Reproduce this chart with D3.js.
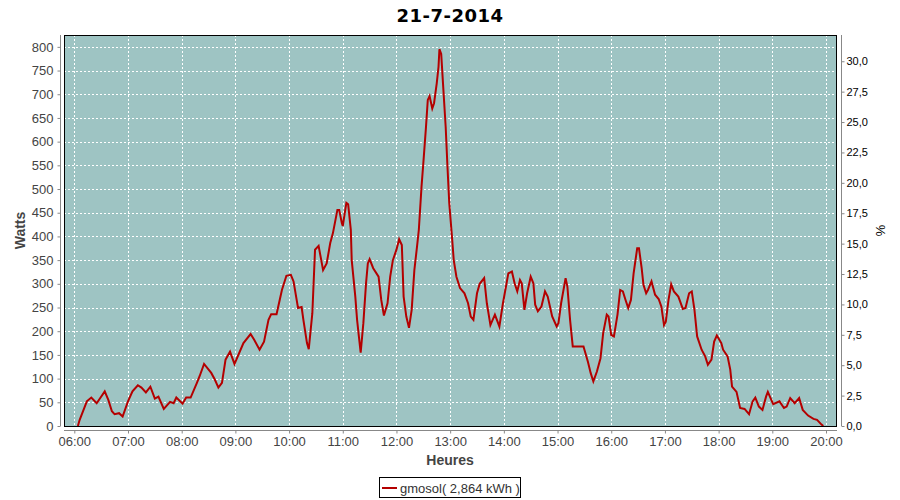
<!DOCTYPE html>
<html>
<head>
<meta charset="utf-8">
<script src="https://cdn.jsdelivr.net/npm/d3@7/dist/d3.min.js"></script>
<style>
  html, body { margin: 0; padding: 0; background: #fff; }
  svg { display: block; }
</style>
</head>
<body>
<svg id="chart" width="900" height="500"></svg>
<script>
// ---- data ----
const times = ["06:04","06:06","06:14","06:19","06:25","06:29","06:34","06:38","06:42","06:45","06:50","06:54",
"07:00","07:05","07:11","07:15","07:20","07:25","07:30","07:34","07:40","07:47","07:51","07:54",
"08:01","08:05","08:10","08:17","08:20","08:25","08:33","08:37","08:41","08:45","08:49","08:54","08:59",
"09:09","09:17","09:21","09:27","09:32","09:37","09:40","09:46","09:52","09:57",
"10:02","10:05","10:10","10:14","10:16","10:20","10:22","10:26","10:29","10:33","10:38","10:42","10:46","10:49","10:54","10:56","10:59",
"11:00","11:04","11:06","11:09","11:10","11:14","11:16","11:18","11:20","11:23","11:26","11:28","11:30","11:34","11:40","11:43","11:46","11:50","11:53","11:56",
"12:00","12:03","12:06","12:08","12:11","12:14","12:17","12:20","12:23","12:25","12:28","12:30","12:33","12:35","12:37","12:40","12:42","12:45","12:47","12:48","12:50","12:52","12:55","12:57","12:59",
"13:02","13:04","13:07","13:11","13:16","13:20","13:23","13:26","13:30","13:33","13:38","13:41","13:45","13:50","13:55","13:59",
"14:05","14:09","14:12","14:15","14:18","14:20","14:23","14:26","14:30","14:33","14:35","14:38","14:42","14:46","14:49","14:54","14:59",
"15:01","15:04","15:09","15:11","15:14","15:17","15:23","15:29","15:34","15:37","15:40","15:44","15:48","15:51","15:55","15:57",
"16:00","16:03","16:07","16:10","16:13","16:16","16:19","16:22","16:25","16:29","16:31","16:34","16:36","16:39","16:41","16:45","16:49","16:53","16:56","16:59",
"17:01","17:04","17:07","17:10","17:15","17:20","17:23","17:27","17:30","17:33","17:36","17:41","17:45","17:48","17:52","17:55","17:58",
"18:03","18:05","18:10","18:13","18:15","18:20","18:24","18:29","18:34","18:38","18:41","18:45","18:49","18:53","18:55",
"19:01","19:08","19:13","19:16","19:20","19:25","19:30","19:34","19:40","19:46","19:50","19:55","19:57"];
const watts = [0,13,52,60,48,59,73,55,31,25,27,20,
52,73,86,81,71,83,58,62,36,51,48,60,
47,60,60,91,105,131,112,98,81,91,140,157,131,
175,194,182,161,178,224,236,236,287,317,
319,305,249,251,224,175,162,238,372,380,329,343,386,407,456,456,428,
422,471,468,414,350,273,224,189,155,217,301,343,352,333,315,266,233,259,315,350,
372,394,382,273,231,207,245,329,379,414,505,554,631,688,696,670,681,723,758,795,785,723,631,547,470,
400,350,315,291,280,259,231,224,280,300,312,259,213,235,210,259,
322,326,301,284,308,301,245,280,315,301,256,242,252,284,273,231,210,
217,259,312,294,224,168,168,168,135,112,94,115,143,196,235,231,
192,189,235,287,284,266,249,266,322,375,375,333,298,280,287,305,277,268,252,213,
220,266,299,284,273,247,249,280,284,245,189,161,147,129,140,178,191,
175,161,147,119,83,72,38,36,25,52,60,41,34,62,72,
46,52,38,41,59,48,59,34,22,15,13,3,0];

const hourTicks = ["06:00","07:00","08:00","09:00","10:00","11:00","12:00","13:00","14:00","15:00","16:00","17:00","18:00","19:00","20:00"];
const wattTicks = [0,50,100,150,200,250,300,350,400,450,500,550,600,650,700,750,800];
const pctTicks = [0,2.5,5,7.5,10,12.5,15,17.5,20,22.5,25,27.5,30];

const titleText = "21-7-2014";
const seriesName = "gmosol( 2,864 kWh )";
const xLabel = "Heures";
const yLabel = "Watts";
const y2Label = "%";

// ---- layout ----
const plot = {left: 64, right: 837, top: 35, bottom: 426};
const parse = d3.timeParse("%H:%M");
const data = times.map((t, i) => ({t: parse(t), v: watts[i]}));

const svg = d3.select("#chart");

const x = d3.scaleTime()
  .domain([parse("05:48"), parse("20:12")])
  .range([plot.left, plot.right]);
// fine tune so that domain edges include seconds
x.domain([new Date(parse("05:48").getTime() + 29000), new Date(parse("20:12").getTime() + 17000)]);

const y = d3.scaleLinear().domain([0, 825]).range([plot.bottom, plot.top]);
const y2 = d3.scaleLinear().domain([0, 32.16]).range([plot.bottom, plot.top]);

// background
svg.append("rect")
  .attr("x", plot.left).attr("y", plot.top)
  .attr("width", plot.right - plot.left).attr("height", plot.bottom - plot.top)
  .attr("fill", "#9ec4c3");

// grid
const grid = svg.append("g").attr("stroke", "#fff").attr("stroke-width", 1)
  .attr("stroke-dasharray", "2,2").attr("shape-rendering", "crispEdges");
grid.selectAll("line.h").data(wattTicks).join("line")
  .attr("x1", plot.left).attr("x2", plot.right)
  .attr("y1", d => Math.round(y(d)) + 0.5).attr("y2", d => Math.round(y(d)) + 0.5);
grid.selectAll("line.v").data(hourTicks.map(parse)).join("line")
  .attr("y1", plot.top).attr("y2", plot.bottom)
  .attr("x1", d => Math.round(x(d)) + 0.5).attr("x2", d => Math.round(x(d)) + 0.5);

// line
const line = d3.line().x(d => x(d.t)).y(d => y(d.v));
svg.append("path").datum(data)
  .attr("d", line)
  .attr("fill", "none")
  .attr("stroke", "#b40000")
  .attr("stroke-width", 2)
  .attr("stroke-linejoin", "miter");

// plot outline
svg.append("rect")
  .attr("x", plot.left + 0.5).attr("y", plot.top + 0.5)
  .attr("width", plot.right - plot.left - 1).attr("height", plot.bottom - plot.top)
  .attr("fill", "none").attr("stroke", "#000").attr("stroke-width", 1);

// axes
function styleAxis(g, color, size) {
  g.select(".domain").attr("stroke", "#888");
  g.selectAll(".tick line").attr("stroke", "#888");
  g.selectAll(".tick text").attr("fill", color)
    .attr("font-family", "'Liberation Sans', Arial, sans-serif")
    .attr("font-size", size);
}

const gL = svg.append("g").attr("transform", `translate(60.5,0)`)
  .call(d3.axisLeft(y).tickValues(wattTicks).tickSizeOuter(0).tickSize(3).tickPadding(4));
gL.select(".domain").attr("d", `M0,${plot.top}V${plot.bottom}`);
styleAxis(gL, "#444", 13);

const gB = svg.append("g").attr("transform", `translate(0,430.5)`)
  .call(d3.axisBottom(x).tickValues(hourTicks.map(parse)).tickFormat(d3.timeFormat("%H:%M"))
    .tickSizeOuter(0).tickSize(3).tickPadding(3));
gB.select(".domain").attr("d", `M${plot.left},0H${plot.right}`);
styleAxis(gB, "#444", 13);

const fmtPct = d => d3.format(".1f")(d).replace(".", ",");
const gR = svg.append("g").attr("transform", `translate(841.5,0)`)
  .call(d3.axisRight(y2).tickValues(pctTicks).tickFormat(fmtPct).tickSizeOuter(0).tickSize(3).tickPadding(2));
gR.select(".domain").attr("d", `M0,${plot.top}V${plot.bottom}`);
styleAxis(gR, "#000", 11);

svg.selectAll(".domain").attr("fill", "none");

// title
svg.append("text")
  .attr("x", 450).attr("y", 22)
  .attr("text-anchor", "middle")
  .attr("font-family", "'DejaVu Sans', sans-serif")
  .attr("font-weight", "bold").attr("font-size", 18)
  .attr("letter-spacing", 0.5)
  .attr("fill", "#000")
  .text(titleText);

// axis labels
svg.append("text")
  .attr("transform", `translate(25,${(plot.top + plot.bottom) / 2}) rotate(-90)`)
  .attr("text-anchor", "middle")
  .attr("font-family", "'Liberation Sans', Arial, sans-serif")
  .attr("font-weight", "bold").attr("font-size", 14)
  .attr("fill", "#444")
  .text(yLabel);

svg.append("text")
  .attr("transform", `translate(876,${(plot.top + plot.bottom) / 2}) rotate(90)`)
  .attr("text-anchor", "middle")
  .attr("font-family", "'Liberation Sans', Arial, sans-serif")
  .attr("font-size", 13)
  .attr("fill", "#000")
  .text(y2Label);

svg.append("text")
  .attr("x", 450).attr("y", 465)
  .attr("text-anchor", "middle")
  .attr("font-family", "'Liberation Sans', Arial, sans-serif")
  .attr("font-weight", "bold").attr("font-size", 14)
  .attr("fill", "#444")
  .text(xLabel);

// legend
const lg = svg.append("g");
lg.append("rect").attr("x", 379.5).attr("y", 477.5).attr("width", 141).attr("height", 20)
  .attr("fill", "#fff").attr("stroke", "#000").attr("stroke-width", 1);
lg.append("line").attr("x1", 382).attr("x2", 397).attr("y1", 488).attr("y2", 488)
  .attr("stroke", "#b40000").attr("stroke-width", 2);
lg.append("text").attr("x", 400).attr("y", 492.5)
  .attr("font-family", "'Liberation Sans', Arial, sans-serif")
  .attr("font-size", 13).attr("fill", "#333")
  .text(seriesName);
</script>
</body>
</html>
